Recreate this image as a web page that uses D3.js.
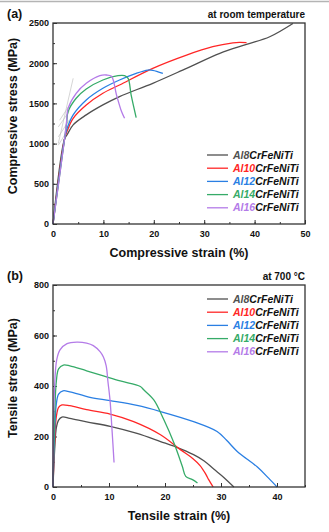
<!DOCTYPE html>
<html>
<head>
<meta charset="utf-8">
<script src="https://cdn.jsdelivr.net/npm/d3@7"></script>
<style>
body { margin: 0; background: #fff; }
svg text { font-family: "Liberation Sans", Arial, sans-serif; font-weight: bold; fill: #111; }
</style>
</head>
<body>
<div id="chart"></div>
<script>
(function () {
"use strict";

// alloy names and colours (shared by both panels)
var alloys = ["Al8", "Al10", "Al12", "Al14", "Al16"];
var colors = ["#505050", "#ff2626", "#2a7fe3", "#36ab68", "#b47be8"];

// (a) compression at room temperature: [strain %, stress MPa]
var compAl8 = [[0,0],[2.3,1060],[2.8,1110],[4,1233],[6.6,1357],[9.9,1481],[13.2,1585],[19.8,1750],[26.5,1936],[33.1,2122],[38.4,2234],[43,2329],[47.6,2494]];
var compAl10 = [[0,0],[2.3,1060],[2.7,1140],[4,1315],[6.6,1481],[9.9,1626],[13.2,1729],[19.8,1936],[26.5,2101],[31.7,2205],[35.7,2252],[37,2258],[38.4,2255]];
var compAl12 = [[0,0],[2.3,1060],[2.7,1170],[4,1357],[6.6,1543],[9.9,1688],[13.2,1791],[16.5,1874],[18.8,1915],[19.8,1912],[21.8,1874]];
var compAl14 = [[0,0],[2.3,1060],[2.7,1250],[3,1398],[4.6,1564],[6.6,1679],[9.9,1791],[12.9,1845],[14.2,1845],[14.9,1812],[15.5,1605],[16.5,1324]];
var compAl16 = [[0,0],[2.3,1060],[2.7,1280],[3,1440],[4.6,1626],[6.6,1750],[9.3,1845],[10.6,1853],[11.6,1837],[12.6,1605],[13.6,1398],[14.2,1315]];
var compSeries = [compAl8, compAl10, compAl12, compAl14, compAl16];
// thin grey offset guide lines near the yield points
var compGuides = [
  [[1.05,1001],[4,1812]],
  [[1.05,980],[3.4,1216]],
  [[1.05,1083],[3.3,1300]],
  [[1.05,1207],[3.2,1400]],
  [[1.3,1290],[3.2,1470]]
];

// (b) tension at 700 C: [strain %, stress MPa]
var tensAl8 = [[0,0],[0.3,150],[0.6,235],[1,265],[1.6,277],[3,272],[6,258],[10.2,240],[15,212],[19.2,180],[22,158],[25.1,128],[27,103],[28.7,71],[30.5,38],[32.3,0]];
var tensAl10 = [[0,0],[0.3,180],[0.6,280],[1,315],[1.6,325],[3,322],[6,306],[10.2,289],[14.4,259],[19.2,207],[22.8,147],[25,112],[26.3,84],[27.3,50],[27.8,29],[28.6,0]];
var tensAl12 = [[0,0],[0.3,220],[0.6,330],[1,368],[1.8,381],[3,377],[6.6,355],[10.2,342],[15,323],[19.2,299],[25.1,259],[29.3,220],[31,185],[32.9,141],[36.5,79],[38.5,35],[40,0]];
var tensAl14 = [[0,0],[0.3,280],[0.6,420],[1,468],[1.85,483],[3,480],[6,460],[9,440],[12,420],[15.6,398],[16.2,385],[18,345],[19.8,266],[21.6,174],[23.1,81],[23.7,42],[24.9,29],[25.8,16]];
var tensAl16 = [[0,0],[0.2,350],[0.66,503],[1.25,543],[2.5,568],[4.25,574],[6,570],[7.2,560],[8.4,536],[9,515],[9.5,480],[9.8,420],[10.2,340],[10.5,240],[10.7,170],[10.9,97]];
var tensSeries = [tensAl8, tensAl10, tensAl12, tensAl14, tensAl16];

// axis ticks
var compXTicks = [0, 10, 20, 30, 40, 50];
var compYTicks = [0, 500, 1000, 1500, 2000, 2500];
var tensXTicks = [0, 10, 20, 30, 40];
var tensYTicks = [0, 200, 400, 600, 800];

var svg = d3.select("#chart").append("svg")
    .attr("width", 329)
    .attr("height", 532);

// page separator line at the top
svg.append("line")
    .attr("x1", 0).attr("x2", 329)
    .attr("y1", 1.5).attr("y2", 1.5)
    .attr("stroke", "#b4b4b4")
    .attr("stroke-width", 1.5);

function drawPanel(opt) {
    var x = d3.scaleLinear().domain(opt.xDomain).range([53, 305]);
    var y = d3.scaleLinear().domain(opt.yDomain).range([opt.bottom, opt.top]);
    var g = svg.append("g");

    // minor ticks
    var xMinor = d3.range(opt.xDomain[0], opt.xDomain[1] + 0.001, opt.xMinor);
    var yMinor = d3.range(opt.yDomain[0], opt.yDomain[1] + 0.001, opt.yMinor);

    var xAxis = d3.axisBottom(x).tickValues(opt.xTicks).tickSize(-4).tickPadding(7).tickFormat(d3.format("d"));
    var yAxis = d3.axisLeft(y).tickValues(opt.yTicks).tickSize(-4).tickPadding(4).tickFormat(d3.format("d"));

    g.append("g").attr("transform", "translate(0," + opt.bottom + ")")
        .call(d3.axisBottom(x).tickValues(xMinor).tickSize(-2).tickFormat(""))
        .call(function (s) { s.select(".domain").remove(); s.selectAll("line").attr("stroke", "#333"); });
    g.append("g").attr("transform", "translate(53,0)")
        .call(d3.axisLeft(y).tickValues(yMinor).tickSize(-2).tickFormat(""))
        .call(function (s) { s.select(".domain").remove(); s.selectAll("line").attr("stroke", "#333"); });

    var gx = g.append("g").attr("transform", "translate(0," + opt.bottom + ")").call(xAxis);
    var gy = g.append("g").attr("transform", "translate(53,0)").call(yAxis);
    [gx, gy].forEach(function (a) {
        a.select(".domain").remove();
        a.selectAll("line").attr("stroke", "#333").attr("stroke-width", 1);
        a.selectAll("text").attr("font-size", 9).attr("font-family", null).attr("fill", "#111");
    });

    var line = d3.line()
        .x(function (d) { return x(d[0]); })
        .y(function (d) { return y(d[1]); })
        .curve(d3.curveCatmullRom.alpha(0.5));

    if (opt.guides) {
        g.selectAll(".guide").data(opt.guides).enter().append("path")
            .attr("d", d3.line().x(function (d) { return x(d[0]); }).y(function (d) { return y(d[1]); }))
            .attr("fill", "none")
            .attr("stroke", "#b8b8b8")
            .attr("stroke-width", 0.6);
    }

    g.selectAll(".curve").data(opt.series).enter().append("path")
        .attr("d", line)
        .attr("fill", "none")
        .attr("stroke", function (d, i) { return colors[i]; })
        .attr("stroke-width", 1.3);

    // frame
    g.append("rect")
        .attr("x", 53).attr("y", opt.top)
        .attr("width", 252).attr("height", opt.bottom - opt.top)
        .attr("fill", "none")
        .attr("stroke", "#333")
        .attr("stroke-width", 1.3);

    // legend
    var leg = g.selectAll(".leg").data(alloys).enter().append("g")
        .attr("transform", function (d, i) { return "translate(0," + (opt.legendTop + i * 13.2) + ")"; });
    leg.append("line")
        .attr("x1", 207).attr("x2", 228)
        .attr("stroke", function (d, i) { return colors[i]; })
        .attr("stroke-width", 1.3);
    var lt = leg.append("text")
        .attr("x", 233).attr("dy", "0.35em")
        .attr("font-size", 10.5)
        .attr("font-style", "italic");
    lt.append("tspan").attr("fill", function (d, i) { return colors[i]; }).text(function (d) { return d; });
    lt.append("tspan").text("CrFeNiTi");

    // labels
    g.append("text").attr("x", 7).attr("y", opt.top - 5).attr("font-size", 12.5).text(opt.tag);
    g.append("text").attr("x", 305).attr("y", opt.top - 5).attr("text-anchor", "end").attr("font-size", 10).text(opt.note);
    g.append("text").attr("x", 179).attr("y", opt.bottom + 33).attr("text-anchor", "middle").attr("font-size", 12.5).text(opt.xLabel);
    g.append("text")
        .attr("transform", "translate(17," + opt.yLabelY + ") rotate(-90)")
        .attr("text-anchor", "middle").attr("font-size", 12.5).text(opt.yLabel);
}

drawPanel({
    xDomain: [0, 50], yDomain: [0, 2500], top: 23, bottom: 224,
    xTicks: compXTicks, yTicks: compYTicks, xMinor: 5, yMinor: 250,
    series: compSeries, guides: compGuides, legendTop: 155,
    tag: "(a)", note: "at room temperature",
    xLabel: "Compressive strain (%)", yLabel: "Compressive stress (MPa)", yLabelY: 116
});

drawPanel({
    xDomain: [0, 45], yDomain: [0, 800], top: 285, bottom: 487,
    xTicks: tensXTicks, yTicks: tensYTicks, xMinor: 5, yMinor: 100,
    series: tensSeries, legendTop: 299,
    tag: "(b)", note: "at 700 \u00B0C",
    xLabel: "Tensile strain (%)", yLabel: "Tensile stress (MPa)", yLabelY: 378
});

})();
</script>
</body>
</html>
